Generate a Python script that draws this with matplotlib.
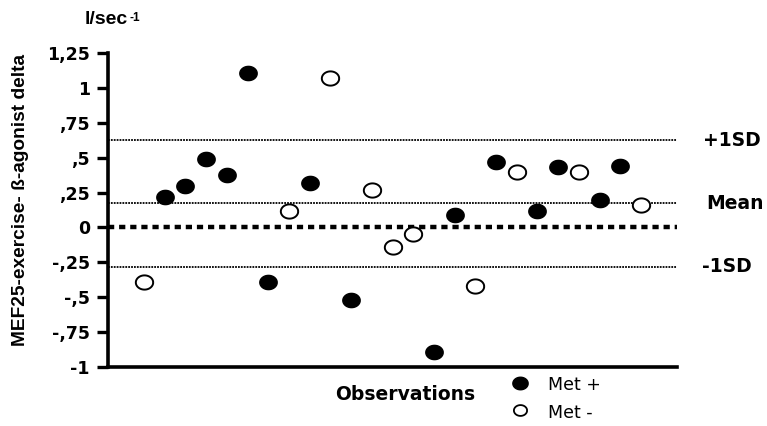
import matplotlib.pyplot as plt
import numpy as np

plt.rcParams['font.family'] = ['DejaVu Sans']

# observation values (l/sec), in order along the x axis
obs = list(range(1, 26))
delta = [-0.39, 0.22, 0.295, 0.49, 0.375, 1.11, -0.39, 0.12, 0.32, 1.07,
         -0.52, 0.27, -0.14, -0.05, -0.89, 0.09, -0.42, 0.47, 0.40, 0.115,
         0.43, 0.40, 0.195, 0.44, 0.16]
met = ['-', '+', '+', '+', '+', '+', '+', '-', '+', '-',
       '+', '-', '-', '-', '+', '+', '-', '+', '-', '+',
       '+', '-', '+', '+', '-']

mean_val = 0.173
sd_plus = 0.626
sd_minus = -0.28

yticks = [1.25, 1, 0.75, 0.5, 0.25, 0, -0.25, -0.5, -0.75, -1]
ytick_labels = ['1,25', '1', ',75', ',5', ',25', '0', '-,25', '-,5', '-,75', '-1']


def main():
    fig = plt.figure(figsize=(7.67, 4.26), dpi=100)
    ax = fig.add_axes([0.1408, 0.1385, 0.7419, 0.7371])

    t = np.linspace(0, 2 * np.pi, 60)
    ell = list(zip(np.cos(t), 0.82 * np.sin(t)))

    x = np.array(obs)
    y = np.array(delta)
    m = np.array(met)

    ax.axhline(sd_plus, color='black', lw=1.3, ls=(0, (1, 0.6)), zorder=1)
    ax.axhline(mean_val, color='black', lw=1.3, ls=(0, (1, 0.6)), zorder=1)
    ax.axhline(sd_minus, color='black', lw=1.3, ls=(0, (1, 0.6)), zorder=1)
    ax.axhline(0, color='black', lw=3.2, ls=(0, (1.4, 1.1)), zorder=1)

    ax.plot(x[m == '+'], y[m == '+'], ls='none', marker=ell, ms=12.5,
            mfc='black', mec='black', zorder=3)
    ax.plot(x[m == '-'], y[m == '-'], ls='none', marker=ell, ms=12.5,
            mfc='white', mec='black', mew=1.4, zorder=3)

    ax.set_xlim(-0.74, 26.74)
    ax.set_ylim(-1, 1.25)
    ax.set_yticks(yticks)
    ax.set_yticklabels(ytick_labels, fontsize=12.5, fontweight='bold')
    ax.set_xticks([])
    ax.tick_params(axis='y', length=8, width=2.4, pad=5)
    for s in ['top', 'right']:
        ax.spines[s].set_visible(False)
    ax.spines['left'].set_linewidth(2.6)
    ax.spines['bottom'].set_linewidth(2.6)

    # right side labels
    tr = ax.get_yaxis_transform()
    ax.text(1.045, sd_plus, '+1SD', transform=tr, fontsize=13.5,
            fontweight='bold', va='center', ha='left')
    ax.text(1.052, mean_val, 'Mean', transform=tr, fontsize=13.5,
            fontweight='bold', va='center', ha='left')
    ax.text(1.044, sd_minus, '-1SD', transform=tr, fontsize=13.5,
            fontweight='bold', va='center', ha='left')

    fig.text(21 / 767, 0.53, 'MEF25-exercise- ß-agonist delta', rotation=90,
             fontsize=13.8, fontweight='bold', ha='center', va='center',
             family='Liberation Sans')
    fig.text(85 / 767, 1 - 19 / 426, 'l/sec', fontsize=14,
             fontweight='bold', ha='left', va='center',
             family='Liberation Sans')
    fig.text(129 / 767, 1 - 18 / 426, '-1', fontsize=8.5,
             fontweight='bold', ha='left', va='center',
             family='Liberation Sans')

    fig.text(405 / 767, 1 - 395 / 426, 'Observations', fontsize=13.5,
             fontweight='bold', ha='center', va='center')

    # legend
    fig.text(548 / 767, 1 - 385 / 426, 'Met +', fontsize=12.5, ha='left', va='center')
    fig.text(548 / 767, 1 - 413 / 426, 'Met -', fontsize=12.5, ha='left', va='center')
    lx = fig.add_axes([0, 0, 1, 1], facecolor='none')
    lx.set_xlim(0, 767)
    lx.set_ylim(426, 0)
    lx.axis('off')
    lx.plot([520], [383], ls='none', marker=ell, ms=11, mfc='black', mec='black')
    lx.plot([520], [410], ls='none', marker=ell, ms=9.5, mfc='white',
            mec='black', mew=1.3)

    plt.savefig('out.png', dpi=100)


if __name__ == "__main__":
    main()
